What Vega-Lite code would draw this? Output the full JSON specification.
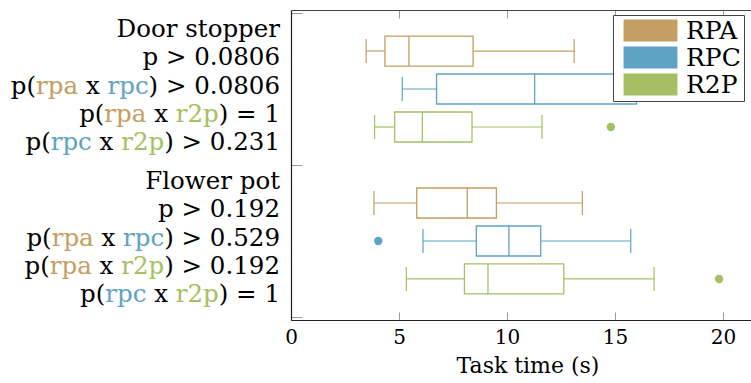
{
  "$schema": "https://vega.github.io/schema/vega-lite/v6.json",
  "width": 473,
  "height": 310,
  "autosize": {"type": "none"},
  "padding": {"left": 291, "top": 10, "right": -13, "bottom": 63},
  "config": {
    "view": {"stroke": null},
    "font": "DejaVu Serif",
    "circle": {"opacity": 1},
    "point": {"opacity": 1},
    "tick": {"opacity": 1}
  },
  "datasets": {
    "stats": [
      {"task": "Door stopper", "robot": "RPA", "box": "Door stopper RPA", "lo": 3.48, "q1": 4.35, "med": 5.46, "q3": 8.43, "hi": 13.11},
      {"task": "Door stopper", "robot": "RPC", "box": "Door stopper RPC", "lo": 5.15, "q1": 6.74, "med": 11.28, "q3": 16.0, "hi": 19.8},
      {"task": "Door stopper", "robot": "R2P", "box": "Door stopper R2P", "lo": 3.87, "q1": 4.8, "med": 6.08, "q3": 8.38, "hi": 11.62},
      {"task": "Flower pot", "robot": "RPA", "box": "Flower pot RPA", "lo": 3.84, "q1": 5.82, "med": 8.16, "q3": 9.51, "hi": 13.49},
      {"task": "Flower pot", "robot": "RPC", "box": "Flower pot RPC", "lo": 6.11, "q1": 8.58, "med": 10.09, "q3": 11.56, "hi": 15.73},
      {"task": "Flower pot", "robot": "R2P", "box": "Flower pot R2P", "lo": 5.34, "q1": 8.03, "med": 9.12, "q3": 12.63, "hi": 16.81}
    ],
    "outliers": [
      {"task": "Door stopper", "robot": "R2P", "box": "Door stopper R2P", "value": 14.81},
      {"task": "Flower pot", "robot": "RPC", "box": "Flower pot RPC", "value": 4.04},
      {"task": "Flower pot", "robot": "R2P", "box": "Flower pot R2P", "value": 19.82}
    ],
    "labels": [
      {"box": "Door stopper RPC", "line": 0, "key": "K", "text": "Door stopper"},
      {"box": "Door stopper RPC", "line": 1, "key": "K", "text": "p > 0.0806"},
      {"box": "Door stopper RPC", "line": 2, "key": "K", "text": "p(rpa x rpc) > 0.0806"},
      {"box": "Door stopper RPC", "line": 2, "key": "W", "text": "rpa x rpc) > 0.0806"},
      {"box": "Door stopper RPC", "line": 2, "key": "RPA", "text": "rpa x rpc) > 0.0806"},
      {"box": "Door stopper RPC", "line": 2, "key": "W", "text": " x rpc) > 0.0806"},
      {"box": "Door stopper RPC", "line": 2, "key": "K", "text": " x rpc) > 0.0806"},
      {"box": "Door stopper RPC", "line": 2, "key": "W", "text": "rpc) > 0.0806"},
      {"box": "Door stopper RPC", "line": 2, "key": "RPC", "text": "rpc) > 0.0806"},
      {"box": "Door stopper RPC", "line": 2, "key": "W", "text": ") > 0.0806"},
      {"box": "Door stopper RPC", "line": 2, "key": "K", "text": ") > 0.0806"},
      {"box": "Door stopper RPC", "line": 3, "key": "K", "text": "p(rpa x r2p) = 1"},
      {"box": "Door stopper RPC", "line": 3, "key": "W", "text": "rpa x r2p) = 1"},
      {"box": "Door stopper RPC", "line": 3, "key": "RPA", "text": "rpa x r2p) = 1"},
      {"box": "Door stopper RPC", "line": 3, "key": "W", "text": " x r2p) = 1"},
      {"box": "Door stopper RPC", "line": 3, "key": "K", "text": " x r2p) = 1"},
      {"box": "Door stopper RPC", "line": 3, "key": "W", "text": "r2p) = 1"},
      {"box": "Door stopper RPC", "line": 3, "key": "R2P", "text": "r2p) = 1"},
      {"box": "Door stopper RPC", "line": 3, "key": "W", "text": ") = 1"},
      {"box": "Door stopper RPC", "line": 3, "key": "K", "text": ") = 1"},
      {"box": "Door stopper RPC", "line": 4, "key": "K", "text": "p(rpc x r2p) > 0.231"},
      {"box": "Door stopper RPC", "line": 4, "key": "W", "text": "rpc x r2p) > 0.231"},
      {"box": "Door stopper RPC", "line": 4, "key": "RPC", "text": "rpc x r2p) > 0.231"},
      {"box": "Door stopper RPC", "line": 4, "key": "W", "text": " x r2p) > 0.231"},
      {"box": "Door stopper RPC", "line": 4, "key": "K", "text": " x r2p) > 0.231"},
      {"box": "Door stopper RPC", "line": 4, "key": "W", "text": "r2p) > 0.231"},
      {"box": "Door stopper RPC", "line": 4, "key": "R2P", "text": "r2p) > 0.231"},
      {"box": "Door stopper RPC", "line": 4, "key": "W", "text": ") > 0.231"},
      {"box": "Door stopper RPC", "line": 4, "key": "K", "text": ") > 0.231"},
      {"box": "Flower pot RPC", "line": 0, "key": "K", "text": "Flower pot"},
      {"box": "Flower pot RPC", "line": 1, "key": "K", "text": "p > 0.192"},
      {"box": "Flower pot RPC", "line": 2, "key": "K", "text": "p(rpa x rpc) > 0.529"},
      {"box": "Flower pot RPC", "line": 2, "key": "W", "text": "rpa x rpc) > 0.529"},
      {"box": "Flower pot RPC", "line": 2, "key": "RPA", "text": "rpa x rpc) > 0.529"},
      {"box": "Flower pot RPC", "line": 2, "key": "W", "text": " x rpc) > 0.529"},
      {"box": "Flower pot RPC", "line": 2, "key": "K", "text": " x rpc) > 0.529"},
      {"box": "Flower pot RPC", "line": 2, "key": "W", "text": "rpc) > 0.529"},
      {"box": "Flower pot RPC", "line": 2, "key": "RPC", "text": "rpc) > 0.529"},
      {"box": "Flower pot RPC", "line": 2, "key": "W", "text": ") > 0.529"},
      {"box": "Flower pot RPC", "line": 2, "key": "K", "text": ") > 0.529"},
      {"box": "Flower pot RPC", "line": 3, "key": "K", "text": "p(rpa x r2p) > 0.192"},
      {"box": "Flower pot RPC", "line": 3, "key": "W", "text": "rpa x r2p) > 0.192"},
      {"box": "Flower pot RPC", "line": 3, "key": "RPA", "text": "rpa x r2p) > 0.192"},
      {"box": "Flower pot RPC", "line": 3, "key": "W", "text": " x r2p) > 0.192"},
      {"box": "Flower pot RPC", "line": 3, "key": "K", "text": " x r2p) > 0.192"},
      {"box": "Flower pot RPC", "line": 3, "key": "W", "text": "r2p) > 0.192"},
      {"box": "Flower pot RPC", "line": 3, "key": "R2P", "text": "r2p) > 0.192"},
      {"box": "Flower pot RPC", "line": 3, "key": "W", "text": ") > 0.192"},
      {"box": "Flower pot RPC", "line": 3, "key": "K", "text": ") > 0.192"},
      {"box": "Flower pot RPC", "line": 4, "key": "K", "text": "p(rpc x r2p) = 1"},
      {"box": "Flower pot RPC", "line": 4, "key": "W", "text": "rpc x r2p) = 1"},
      {"box": "Flower pot RPC", "line": 4, "key": "RPC", "text": "rpc x r2p) = 1"},
      {"box": "Flower pot RPC", "line": 4, "key": "W", "text": " x r2p) = 1"},
      {"box": "Flower pot RPC", "line": 4, "key": "K", "text": " x r2p) = 1"},
      {"box": "Flower pot RPC", "line": 4, "key": "W", "text": "r2p) = 1"},
      {"box": "Flower pot RPC", "line": 4, "key": "R2P", "text": "r2p) = 1"},
      {"box": "Flower pot RPC", "line": 4, "key": "W", "text": ") = 1"},
      {"box": "Flower pot RPC", "line": 4, "key": "K", "text": ") = 1"}
    ]
  },
  "resolve": {"axis": {"x": "independent"}},
  "encoding": {
    "y": {
      "field": "box",
      "type": "nominal",
      "scale": {
        "type": "point",
        "padding": 0.08,
        "domain": ["_top", "Door stopper RPA", "Door stopper RPC", "Door stopper R2P", "_sep", "Flower pot RPA", "Flower pot RPC", "Flower pot R2P", "_bottom"]
      },
      "axis": {
        "values": ["_top", "_sep", "_bottom"],
        "labels": false,
        "title": null,
        "grid": false,
        "tickSize": -11,
        "tickColor": "#9a9a9a",
        "tickWidth": 1,
        "domainColor": "#222222",
        "domainWidth": 1.2
      }
    }
  },
  "layer": [
    {
      "data": {"name": "outliers"},
      "mark": {"type": "circle", "size": 70, "opacity": 1},
      "encoding": {
        "x": {"field": "value", "type": "quantitative", "scale": {"domain": [0, 21.9], "nice": false, "zero": false}, "axis": null},
        "color": {
          "field": "robot", "type": "nominal",
          "scale": {"domain": ["RPA", "RPC", "R2P", "K", "W"], "range": ["#c49e62", "#5fa3c4", "#a5c062", "#000000", "#ffffff"]},
          "legend": {
            "values": ["RPA", "RPC", "R2P"],
            "orient": "none",
            "legendX": 322,
            "legendY": 5,
            "title": null,
            "symbolType": "M-2.45,-1H2.45V1H-2.45Z",
            "symbolSize": 484,
            "symbolStrokeWidth": 0,
            "symbolOpacity": 1,
            "labelFont": "DejaVu Serif",
            "labelFontSize": 25,
            "labelColor": "#000000",
            "strokeColor": "#444444",
            "fillColor": "#ffffff",
            "padding": 3,
            "symbolOffset": 22,
            "labelOffset": 23,
            "rowPadding": 1
          }
        }
      }
    },
    {
      "data": {"name": "stats"},
      "mark": {"type": "rule", "strokeWidth": 1.2},
      "encoding": {
        "x": {
          "field": "lo", "type": "quantitative",
          "scale": {"domain": [0, 21.9], "nice": false, "zero": false},
          "axis": {
            "orient": "bottom",
            "values": [0, 5, 10, 15, 20],
            "grid": false,
            "tickSize": -8,
            "tickColor": "#9a9a9a",
            "tickWidth": 1,
            "domainColor": "#222222",
            "domainWidth": 1.2,
            "labelFont": "DejaVu Serif",
            "labelFontSize": 20,
            "labelColor": "#000000",
            "labelPadding": 15,
            "labelFlush": false,
            "title": "Task time (s)",
            "titleFont": "DejaVu Serif",
            "titleFontSize": 22,
            "titleFontWeight": "normal",
            "titleColor": "#000000",
            "titlePadding": 8
          }
        },
        "x2": {"field": "q1"},
        "color": {"field": "robot", "type": "nominal"}
      }
    },
    {
      "data": {"name": "stats"},
      "mark": {"type": "rule", "strokeWidth": 1.2},
      "encoding": {
        "x": {
          "field": "q3", "type": "quantitative",
          "scale": {"domain": [0, 21.9], "nice": false, "zero": false},
          "axis": {
            "orient": "top",
            "values": [5, 10, 15, 20],
            "grid": false,
            "labels": false,
            "title": null,
            "tickSize": -8,
            "tickColor": "#9a9a9a",
            "tickWidth": 1,
            "domainColor": "#444444",
            "domainWidth": 1.2
          }
        },
        "x2": {"field": "hi"},
        "color": {"field": "robot", "type": "nominal"}
      }
    },
    {
      "data": {"name": "stats"},
      "mark": {"type": "tick", "size": 24, "thickness": 1.2, "opacity": 1},
      "encoding": {
        "x": {"field": "lo", "type": "quantitative", "scale": {"domain": [0, 21.9], "nice": false, "zero": false}, "axis": null},
        "color": {"field": "robot", "type": "nominal"}
      }
    },
    {
      "data": {"name": "stats"},
      "mark": {"type": "tick", "size": 24, "thickness": 1.2, "opacity": 1},
      "encoding": {
        "x": {"field": "hi", "type": "quantitative", "scale": {"domain": [0, 21.9], "nice": false, "zero": false}, "axis": null},
        "color": {"field": "robot", "type": "nominal"}
      }
    },
    {
      "data": {"name": "stats"},
      "mark": {"type": "bar", "size": 30, "filled": false, "fill": "#ffffff", "strokeWidth": 1.3},
      "encoding": {
        "x": {"field": "q1", "type": "quantitative", "scale": {"domain": [0, 21.9], "nice": false, "zero": false}, "axis": null},
        "x2": {"field": "q3"},
        "color": {"field": "robot", "type": "nominal"}
      }
    },
    {
      "data": {"name": "stats"},
      "mark": {"type": "tick", "size": 30, "thickness": 1.3, "opacity": 1},
      "encoding": {
        "x": {"field": "med", "type": "quantitative", "scale": {"domain": [0, 21.9], "nice": false, "zero": false}, "axis": null},
        "color": {"field": "robot", "type": "nominal"}
      }
    },
    {
      "data": {"name": "labels"},
      "encoding": {
        "x": {"datum": 0, "type": "quantitative", "scale": {"domain": [0, 21.9], "nice": false, "zero": false}, "axis": null},
        "text": {"field": "text", "type": "nominal"},
        "color": {"field": "key", "type": "nominal"},
        "stroke": {
          "field": "key", "type": "nominal",
          "scale": {"domain": ["W", "K", "RPA", "RPC", "R2P"], "range": ["#ffffff", "transparent", "transparent", "transparent", "transparent"]},
          "legend": null
        }
      },
      "layer": [
        {
          "transform": [{"filter": "datum.line == 0"}],
          "mark": {"type": "text", "align": "right", "baseline": "middle", "dx": -11, "dy": -59, "font": "DejaVu Serif", "fontSize": 24.5, "strokeWidth": 1.6}
        },
        {
          "transform": [{"filter": "datum.line == 1"}],
          "mark": {"type": "text", "align": "right", "baseline": "middle", "dx": -11, "dy": -30.7, "font": "DejaVu Serif", "fontSize": 24.5, "strokeWidth": 1.6}
        },
        {
          "transform": [{"filter": "datum.line == 2"}],
          "mark": {"type": "text", "align": "right", "baseline": "middle", "dx": -11, "dy": -2.4, "font": "DejaVu Serif", "fontSize": 24.5, "strokeWidth": 1.6}
        },
        {
          "transform": [{"filter": "datum.line == 3"}],
          "mark": {"type": "text", "align": "right", "baseline": "middle", "dx": -11, "dy": 25.9, "font": "DejaVu Serif", "fontSize": 24.5, "strokeWidth": 1.6}
        },
        {
          "transform": [{"filter": "datum.line == 4"}],
          "mark": {"type": "text", "align": "right", "baseline": "middle", "dx": -11, "dy": 54.2, "font": "DejaVu Serif", "fontSize": 24.5, "strokeWidth": 1.6}
        }
      ]
    }
  ]
}
